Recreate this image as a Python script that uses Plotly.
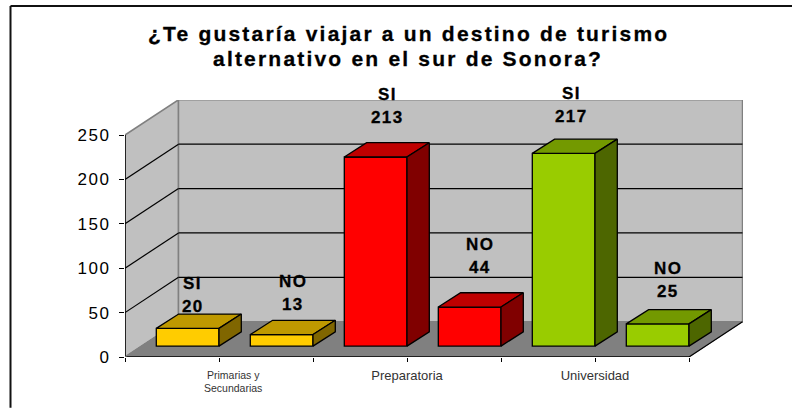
import plotly.graph_objects as go

# Data
labels = ["SI", "NO", "SI", "NO", "SI", "NO"]
values = [20, 13, 213, 44, 217, 25]
groups = ["Primarias y", "Secundarias", "Preparatoria", "Universidad"]
y_ticks = [0, 50, 100, 150, 200, 250]
title_lines = ["¿Te gustaría viajar a un destino de turismo", "alternativo en el sur de Sonora?"]
front_colors = ["#FFCC00", "#FFCC00", "#FF0000", "#FF0000", "#99CC00", "#99CC00"]
top_colors = ["#BF9900", "#BF9900", "#BF0000", "#BF0000", "#739900", "#739900"]
side_colors = ["#806600", "#806600", "#800000", "#800000", "#4D6600", "#4D6600"]

# Geometry in axis units
PX_X, PX_Y = 94.0, 0.889
L, R, T, B = 125, 743, 100, 357.3
WALL_DX, WALL_DY = 53.5 / PX_X, 35.3 / PX_Y
BAR_W = 62.7 / PX_X
BAR_DX, BAR_DY = 22.3 / PX_X, 14.3 / PX_Y
BASE = 10.9 / PX_Y
LABEL_UP = [25, 34, 44, 44, 41.6, 37]
LABEL_RIGHT = [5, 11, 12, 10, 8, 10]

fig = go.Figure()
shapes = []


def poly(points, fill, line_color, lw):
    path = "M " + " L ".join(f"{x},{y}" for x, y in points) + " Z"
    return dict(type="path", path=path, xref="x", yref="y", fillcolor=fill,
                line=dict(color=line_color, width=lw), layer="below")


def seg(x0, y0, x1, y1, color="black", lw=1.2):
    return dict(type="line", x0=x0, y0=y0, x1=x1, y1=y1, xref="x", yref="y",
                line=dict(color=color, width=lw), layer="below")


# walls and floor
top = y_ticks[-1]
shapes.append(poly([(0, 0), (WALL_DX, WALL_DY), (WALL_DX, top + WALL_DY), (0, top)], "#C0C0C0", "#808080", 1.5))
shapes.append(poly([(WALL_DX, WALL_DY), (6 + WALL_DX, WALL_DY), (6 + WALL_DX, top + WALL_DY), (WALL_DX, top + WALL_DY)], "#C0C0C0", "#808080", 1.5))
shapes.append(poly([(0, 0), (6, 0), (6 + WALL_DX, WALL_DY), (WALL_DX, WALL_DY)], "#808080", "#808080", 1))
for t in y_ticks[1:-1]:
    shapes.append(seg(0, t, WALL_DX, t + WALL_DY))
    shapes.append(seg(WALL_DX, t + WALL_DY, 6 + WALL_DX, t + WALL_DY))
shapes.append(seg(0, 0, 0, top, lw=1.5))
shapes.append(seg(0, 0, 6, 0, lw=1.5))
shapes.append(seg(6, 0, 6 + WALL_DX, WALL_DY, "black", 1.2))
shapes.append(seg(0, 0, WALL_DX, WALL_DY, "#808080", 1))

# each bar's right edge sits on the matching axis tick
centers = [i + 1 - BAR_W / 2 for i in range(6)]

fig.add_trace(go.Bar(
    x=centers, y=values, base=BASE, width=BAR_W,
    marker=dict(color=front_colors, line=dict(color="black", width=1.3)),
    showlegend=False, hoverinfo="skip",
))

for i, v in enumerate(values):
    x0 = centers[i] - BAR_W / 2
    x1 = centers[i] + BAR_W / 2
    y1 = BASE + v
    y0 = BASE
    fig.add_trace(go.Scatter(
        x=[x0, x1, x1 + BAR_DX, x0 + BAR_DX, x0], y=[y1, y1, y1 + BAR_DY, y1 + BAR_DY, y1],
        mode="lines", fill="toself", fillcolor=top_colors[i],
        line=dict(color="black", width=1.3), showlegend=False, hoverinfo="skip"))
    fig.add_trace(go.Scatter(
        x=[x1, x1 + BAR_DX, x1 + BAR_DX, x1, x1], y=[y0, y0 + BAR_DY, y1 + BAR_DY, y1, y0],
        mode="lines", fill="toself", fillcolor=side_colors[i],
        line=dict(color="black", width=1.3), showlegend=False, hoverinfo="skip"))

annotations = []
LBL = "font-weight:bold;letter-spacing:1.4px;stroke:black;stroke-width:0.3px"
for i, v in enumerate(values):
    ax = centers[i]
    ay = BASE + v + LABEL_UP[i]
    for txt, shift in ((str(v), 0), (labels[i], 23)):
        annotations.append(dict(
            x=ax, y=ay, xref="x", yref="y", text=f'<span style="{LBL}">{txt}</span>',
            showarrow=False, xanchor="center", yanchor="middle", xshift=LABEL_RIGHT[i], yshift=shift,
            font=dict(family="Liberation Sans", size=17, color="black")))

TITLE = "font-weight:bold;letter-spacing:2.2px;stroke:black;stroke-width:0.3px"
for line, py in zip(title_lines, (33, 58)):
    annotations.append(dict(
        x=(408 - L) / (R - L), y=(B - py) / (B - T), xref="paper", yref="paper",
        text=f'<span style="{TITLE}">{line}</span>', showarrow=False,
        xanchor="center", yanchor="middle",
        font=dict(family="Liberation Sans", size=21, color="black")))

for line, py in zip(groups[:2], (375, 388)):
    annotations.append(dict(
        x=(233 - L) / (R - L), y=(B - py) / (B - T), xref="paper", yref="paper",
        text=line, showarrow=False, xanchor="center", yanchor="middle",
        font=dict(family="Liberation Sans", size=10.5, color="#333333")))

# frame: only the top and left edges are visible
shapes.append(dict(type="line", xref="paper", yref="paper",
                   x0=(10.5 - L) / (R - L), x1=(792 - L) / (R - L),
                   y0=(B - 6) / (B - T), y1=(B - 6) / (B - T),
                   line=dict(color="#111111", width=2)))
shapes.append(dict(type="line", xref="paper", yref="paper",
                   x0=(10.5 - L) / (R - L), x1=(10.5 - L) / (R - L),
                   y0=(B - 408) / (B - T), y1=(B - 6) / (B - T),
                   line=dict(color="#111111", width=2)))

SP = "letter-spacing:1.6px"
fig.update_layout(
    width=792, height=408, autosize=False,
    margin=dict(l=L, r=792 - R, t=T, b=408 - B, pad=0),
    paper_bgcolor="white", plot_bgcolor="rgba(0,0,0,0)",
    shapes=shapes, annotations=annotations, barmode="overlay", showlegend=False,
    font=dict(family="Liberation Sans", color="black"),
    xaxis=dict(range=[0, (R - L) / PX_X], showgrid=False, zeroline=False, showline=False,
               tickmode="array", tickvals=[0, 1, 2, 3, 4, 5, 6],
               ticktext=["", "", "", groups[2], "", groups[3], ""],
               ticks="outside", ticklen=4, tickwidth=1.2, tickcolor="black", ticklabelstandoff=2,
               tickangle=0, tickfont=dict(size=13, color="#333333", family="Liberation Sans")),
    yaxis=dict(range=[0, (B - T) / PX_Y], showgrid=False, zeroline=False, showline=False,
               tickmode="array", tickvals=y_ticks,
               ticktext=[f'<span style="{SP}">{t}</span>' for t in y_ticks],
               ticks="outside", ticklen=5, tickwidth=1.2, ticklabelstandoff=5,
               tickcolor="black", tickfont=dict(size=17, color="black", family="Liberation Sans")),
)

fig.write_html("out.html", config={"displayModeBar": False},
               post_script="document.body.style.margin='0';document.documentElement.style.overflow='hidden';")
